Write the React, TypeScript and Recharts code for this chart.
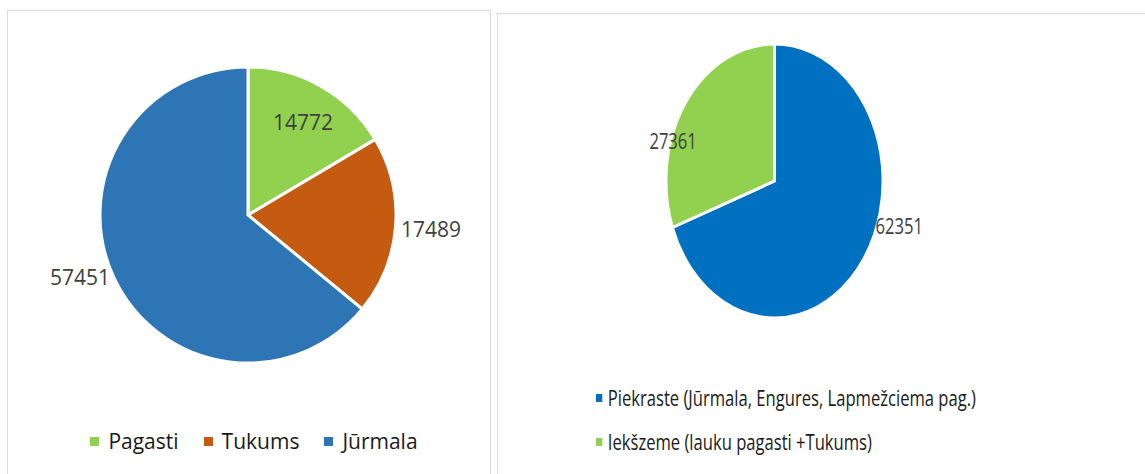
import { PieChart, Pie, Cell, Legend } from "recharts";

/* ── Data ────────────────────────────────────────────────────── */

const areaNames = ["Pagasti", "Tukums", "Jūrmala"];
const areaValues = [14772, 17489, 57451];
const areaColors = ["#92D050", "#C55A11", "#2E75B6"];

const zoneNames = [
  "Piekraste (Jūrmala, Engures, Lapmežciema pag.)",
  "Iekšzeme (lauku pagasti +Tukums)",
];
const zoneValues = [62351, 27361];
const zoneColors = ["#0070C0", "#92D050"];

const areaData = areaNames.map((name, i) => ({ name, value: areaValues[i] }));
const zoneData = zoneNames.map((name, i) => ({ name, value: zoneValues[i] }));

/* ── Helpers ─────────────────────────────────────────────────── */

const RAD = Math.PI / 180;
const FONT = "'Open Sans', sans-serif";
const NO_MARGIN = { top: 0, right: 0, bottom: 0, left: 0 };

// label placement per slice: radius factor and angle shift (degrees)
function makeLabel(radius: number[], shift: number[]) {
  return (props: any) => {
    const { cx, cy, midAngle, outerRadius, index, value } = props;
    const a = (midAngle + shift[index]) * RAD;
    const r = outerRadius * radius[index];
    return (
      <text
        x={cx + r * Math.cos(a)}
        y={cy - r * Math.sin(a)}
        textAnchor="middle"
        dominantBaseline="central"
        fill="#404040"
        fontSize={21}
        fontFamily={FONT}
      >
        {value}
      </text>
    );
  };
}

function RowLegend({ names, colors }: { names: string[]; colors: string[] }) {
  return (
    <div
      style={{
        display: "flex",
        justifyContent: "center",
        paddingLeft: 10,
        fontFamily: FONT,
        fontSize: 21,
        color: "#1a1a1a",
      }}
    >
      {names.map((n, i) => (
        <div
          key={n}
          style={{
            display: "flex",
            alignItems: "center",
            marginRight: i < names.length - 1 ? 25 : 0,
          }}
        >
          <span style={{ width: 9, height: 9, background: colors[i], marginRight: 9 }} />
          <span>{n}</span>
        </div>
      ))}
    </div>
  );
}

function ColumnLegend({ names, colors }: { names: string[]; colors: string[] }) {
  return (
    <div style={{ fontFamily: FONT, fontSize: 21, color: "#1a1a1a" }}>
      {names.map((n, i) => (
        <div
          key={n}
          style={{ display: "flex", alignItems: "center", height: 44, whiteSpace: "nowrap" }}
        >
          <span style={{ width: 8, height: 8, background: colors[i], marginRight: 7 }} />
          <span>{n}</span>
        </div>
      ))}
    </div>
  );
}

/* ── App ─────────────────────────────────────────────────────── */

export default function App() {
  return (
    <div
      style={{
        position: "fixed",
        left: 0,
        top: 0,
        width: 1145,
        height: 474,
        background: "#fff",
        overflow: "hidden",
      }}
    >
      <div
        style={{
          position: "absolute",
          left: 7,
          top: 10,
          width: 484,
          height: 480,
          border: "1px solid #d9d9d9",
          boxSizing: "border-box",
        }}
      >
        <PieChart width={482} height={470} margin={NO_MARGIN}>
          <Pie
            data={areaData}
            dataKey="value"
            nameKey="name"
            cx={240}
            cy={204}
            outerRadius={148}
            startAngle={90}
            endAngle={-270}
            stroke="#fff"
            strokeWidth={3}
            labelLine={false}
            label={makeLabel([0.73, 1.24, 1.21], [-1, 0, -5])}
            isAnimationActive={false}
          >
            {areaData.map((_, i) => (
              <Cell key={i} fill={areaColors[i]} />
            ))}
          </Pie>
          <Legend
            content={<RowLegend names={areaNames} colors={areaColors} />}
            wrapperStyle={{ position: "absolute", top: 416, left: 0, width: 482 }}
          />
        </PieChart>
      </div>

      <div
        style={{
          position: "absolute",
          left: 497,
          top: 13,
          width: 700,
          height: 480,
          border: "1px solid #d9d9d9",
          boxSizing: "border-box",
          overflow: "hidden",
        }}
      >
        <div style={{ transform: "scaleX(0.79)", transformOrigin: "0 0" }}>
          <PieChart width={820} height={470} margin={NO_MARGIN}>
            <Pie
              data={zoneData}
              dataKey="value"
              nameKey="name"
              cx={350}
              cy={167}
              outerRadius={137}
              startAngle={90}
              endAngle={-270}
              stroke="#fff"
              strokeWidth={3}
              labelLine={false}
              label={makeLabel([1.2, 0.98], [19, 18])}
              isAnimationActive={false}
            >
              {zoneData.map((_, i) => (
                <Cell key={i} fill={zoneColors[i]} />
              ))}
            </Pie>
            <Legend
              content={<ColumnLegend names={zoneNames} colors={zoneColors} />}
              wrapperStyle={{ position: "absolute", top: 362, left: 124, width: 650 }}
            />
          </PieChart>
        </div>
      </div>
    </div>
  );
}
